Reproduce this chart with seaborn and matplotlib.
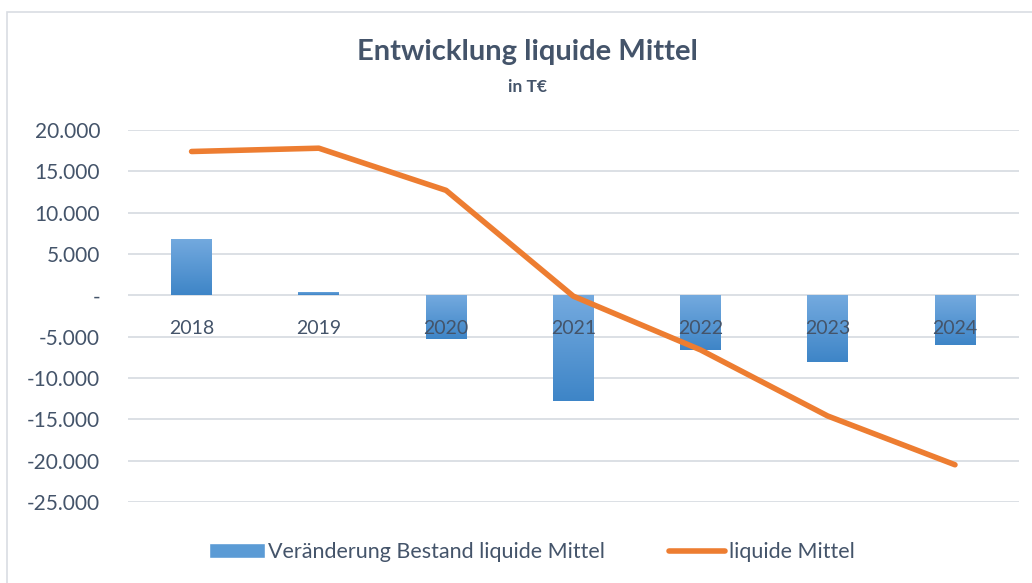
import numpy as np
import pandas as pd
import seaborn as sns
import matplotlib.pyplot as plt
from matplotlib.patches import Rectangle
from matplotlib.lines import Line2D
from matplotlib.ticker import FuncFormatter
from matplotlib.colors import LinearSegmentedColormap

years = ["2018", "2019", "2020", "2021", "2022", "2023", "2024"]
veraenderung = [6800, 400, -5300, -12800, -6600, -8100, -6000]
liquide = [17400, 17800, 12700, -100, -6600, -14600, -20500]

df = pd.DataFrame({"Jahr": years, "Veraenderung": veraenderung, "Liquide": liquide})

sns.set_style("white")
plt.rcParams["font.family"] = ["Lato", "DejaVu Sans"]

txt = "#44546A"
grid = "#D9DDE3"

fig = plt.figure(figsize=(10.32, 5.83), dpi=100)
fig.patches.append(Rectangle((0.007, -0.05), 1.1, 1.03, transform=fig.transFigure,
                             facecolor="white", edgecolor="#D9DDE3", lw=1.2, zorder=-10))
ax = fig.add_axes([0.124, 0.139, 0.863, 0.638])
ax.set_facecolor("none")

sns.barplot(data=df, x="Jahr", y="Veraenderung", color="#5B9BD5", width=0.32, ax=ax, zorder=2)

# Verlauf in den Balken
grad = np.linspace(0, 1, 256).reshape(-1, 1)
cmap = LinearSegmentedColormap.from_list("b", ["#74AADF", "#3E85C7"])
for p in ax.patches:
    x0, y0 = p.get_x(), p.get_y()
    w, h = p.get_width(), p.get_height()
    lo, hi = min(y0, y0 + h), max(y0, y0 + h)
    im = ax.imshow(grad, cmap=cmap, aspect="auto", extent=(x0, x0 + w, lo, hi),
                   origin="upper", zorder=2)
    im.set_clip_path(p)
    p.set_facecolor("none")
    p.set_edgecolor("none")

sns.lineplot(data=df, x="Jahr", y="Liquide", sort=False, color="#ED7D31", lw=4, ax=ax, zorder=3)

ax.set_xlim(-0.5, 6.5)
ax.set_ylim(-25000, 20000)
ax.set_yticks(range(-25000, 20001, 5000))
ax.yaxis.set_major_formatter(FuncFormatter(
    lambda v, pos: "-" if v == 0 else f"{int(v):,}".replace(",", ".")))
ax.grid(axis="y", color=grid, lw=1.3, zorder=0)
for s in ax.spines.values():
    s.set_visible(False)
ax.spines["bottom"].set_position(("data", 0))
ax.tick_params(axis="y", length=0, pad=20, labelsize=15, labelcolor=txt)
ax.tick_params(axis="x", length=0, pad=18, labelsize=14, labelcolor=txt)
ax.xaxis.set_zorder(5)
ax.set_xlabel("")
ax.set_ylabel("")

fig.text(0.511, 0.91, "Entwicklung liquide Mittel", ha="center", va="center",
         fontsize=21, fontweight="bold", color=txt)
fig.text(0.511, 0.851, "in T€", ha="center", va="center",
         fontsize=12.5, fontweight="bold", color=txt)

handles = [Rectangle((0, 0), 1, 1, facecolor="#5B9BD5"),
           Line2D([0], [0], color="#ED7D31", lw=4, solid_capstyle="round")]
fig.legend(handles, ["Veränderung Bestand liquide Mittel", "liquide Mittel"],
           loc="center", bbox_to_anchor=(0.515, 0.053), ncol=2, frameon=False,
           fontsize=15.5, labelcolor=txt, handlelength=2.6, handletextpad=0.15,
           columnspacing=3.0)

fig.savefig("out.png", dpi=100)
